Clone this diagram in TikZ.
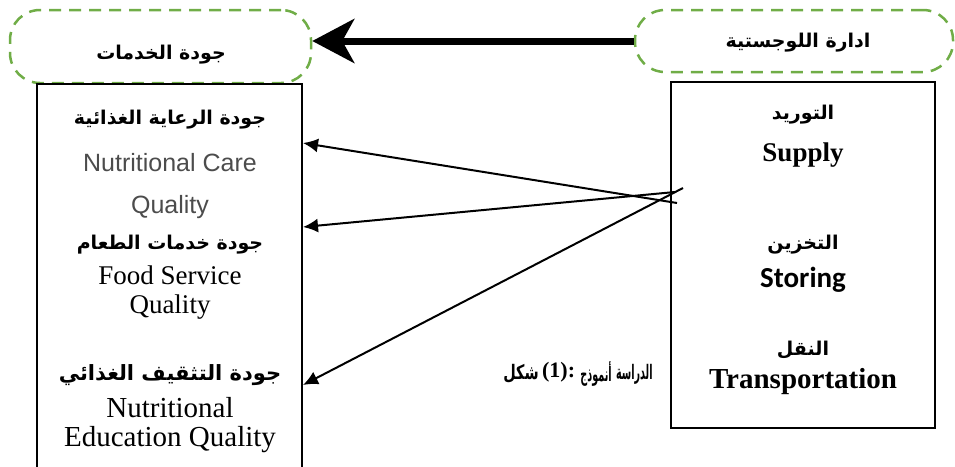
\documentclass[tikz,border=0pt]{standalone}
\usepackage{fontspec}
\setmainfont{Liberation Serif}
\newfontfamily\arabicfont[Script=Arabic]{DejaVu Sans}
\newfontfamily\calibrifont{Carlito}
\newfontfamily\grisfont{Liberation Sans}
\TeXXeTstate=1
\usetikzlibrary{positioning}
\usetikzlibrary{arrows.meta}
\definecolor{verde}{RGB}{112,173,71}
\newcommand{\angosto}[2]{\scalebox{#1}[1]{#2}}
\tikzset{
  nube/.style={draw=verde, line width=2.5pt, dash pattern=on 12pt off 8pt,
    rounded corners=30pt, inner sep=0pt},
  caja/.style={draw, line width=2pt, inner sep=0pt},
  ar/.style={font=\arabicfont\bfseries\fontsize{19}{22}\selectfont},
  titulo/.style={font=\arabicfont\bfseries\fontsize{20}{22}\selectfont, inner sep=0pt},
  gris/.style={font=\grisfont\fontsize{25}{28}\selectfont, text=black!70},
  tnr/.style={font=\fontsize{27}{30}\selectfont},
  flecha/.style={-{Latex[length=15pt,width=14pt]}, line width=2pt},
}
\begin{document}
\begin{tikzpicture}[x=1pt, y=-1pt]
  \useasboundingbox (0,0) rectangle (955,466);

  % Nubes de arriba
  \node[nube, minimum width=301pt, minimum height=73pt] (servicios) at (160.5,46.5) {};
  \node[ar] (tservicios) at (161,55) {\beginR جودة الخدمات\endR};
  \node[nube, minimum width=318pt, minimum height=62pt] (logistica) at (794,41) {};
  \node[ar] (tlogistica) at (798,43) {\beginR ادارة اللوجستية\endR};

  % Flecha gruesa
  \draw[line width=7pt, -{Stealth[length=42pt,width=44pt,inset=12pt]}]
    (logistica.west) -- (servicios.east |- logistica.west);

  % Cajas
  \node[caja, minimum width=265pt, minimum height=396pt] (calidad) at (169.5,282) {};
  \node[caja, minimum width=264pt, minimum height=346pt] (dimensiones) at (803,255) {};

  % Texto de la izquierda
  \node[ar] (cuidado) at (170,120) {\beginR جودة الرعاية الغذائية\endR};
  \node[gris] (cuidado1) at (170,163) {Nutritional Care};
  \node[gris] (cuidado2) at (170,207) {Quality};
  \node[ar] (comida) at (170,245) {\beginR جودة خدمات الطعام\endR};
  \node[tnr] (comida1) at (170,275) {Food Service};
  \node[tnr] (comida2) at (170,307) {Quality};
  \node[ar, font=\arabicfont\bfseries\fontsize{21}{24}\selectfont] (educacion) at (170,375) {\beginR جودة التثقيف الغذائي\endR};
  \node[tnr, font=\fontsize{29}{32}\selectfont] (educacion1) at (170,408) {Nutritional};
  \node[tnr, font=\fontsize{29}{32}\selectfont] (educacion2) at (170,440) {Education Quality};

  % Texto de la derecha
  \node[ar] (suministro) at (803,115) {\beginR التوريد\endR};
  \node[tnr, font=\bfseries\fontsize{27}{30}\selectfont] (suministro1) at (803,155) {Supply};
  \node[ar] (almacen) at (803,245) {\beginR التخزين\endR};
  \node[font=\calibrifont\bfseries\fontsize{29}{32}\selectfont] (almacen1) at (803,280) {Storing};
  \node[ar] (transporte) at (803,350) {\beginR النقل\endR};
  \node[font=\bfseries\fontsize{29}{32}\selectfont] (transporte1) at (803,382) {Transportation};

  % Titulo
  \node[titulo] (fig) at (521,374) {\angosto{0.72}{شكل}};
  \node[font=\bfseries\fontsize{22}{26}\selectfont, inner sep=0pt, right=3pt of fig, yshift=2pt] (num) {(1):};
  \node[titulo, right=5pt of num, yshift=-2pt] (modelo) {\angosto{0.48}{أنموذج}};
  \node[titulo, right=4pt of modelo] (estudio) {\angosto{0.48}{الدراسة}};

  % Flechas finas
  \coordinate (o1) at (677,203);
  \coordinate (o2) at (675,192);
  \coordinate (o3) at (683,188);
  \coordinate (d1) at (calidad.east |- 0,143);
  \coordinate (d2) at (calidad.east |- 0,227);
  \coordinate (d3) at (calidad.east |- 0,385);
  \draw[flecha] (o1) -- (d1);
  \draw[flecha] (o2) -- (d2);
  \draw[flecha] (o3) -- (d3);
\end{tikzpicture}
\end{document}
